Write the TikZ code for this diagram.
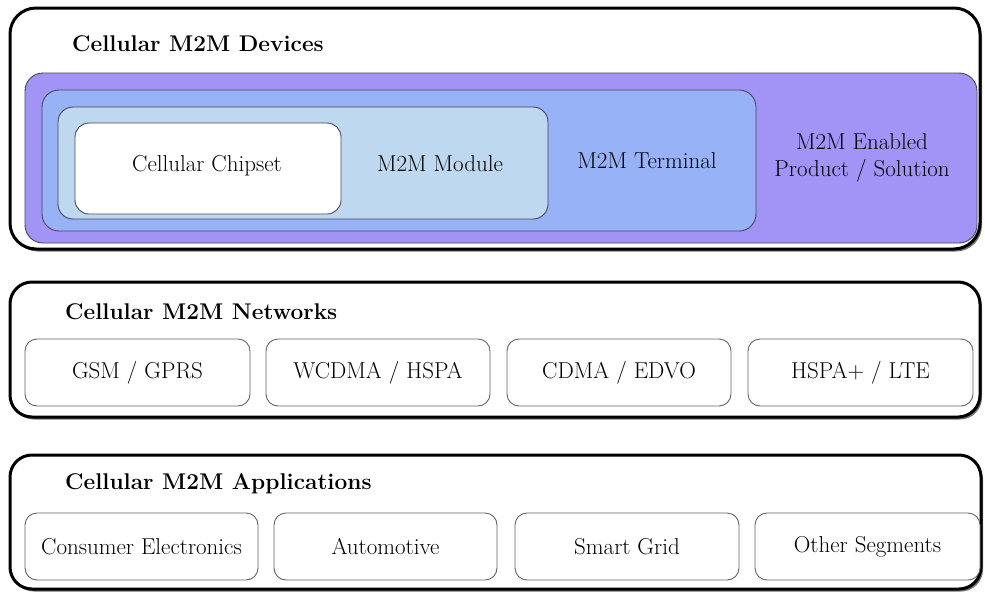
\documentclass[tikz,border=0pt]{standalone}
\usepackage{fontspec}
\usetikzlibrary{shadows}

\definecolor{enabledpurple}{RGB}{162,148,246}
\definecolor{terminalblue}{RGB}{152,178,248}
\definecolor{modulelight}{RGB}{190,216,240}
\definecolor{edgegray}{RGB}{70,70,88}

\tikzset{
  layerbox/.style={draw=black, line width=3pt, rounded corners=26pt, fill=white,
    drop shadow={shadow xshift=2pt, shadow yshift=-2.5pt, fill=black!55, opacity=1}},
  nestbox/.style={draw=edgegray, line width=0.9pt, rounded corners=18pt},
  itembox/.style={draw=edgegray!85, line width=0.9pt, rounded corners=12pt, fill=white,
    minimum height=67pt, font=\fontsize{23}{27}\selectfont, inner sep=0pt},
  layertitle/.style={font=\fontsize{22.7}{27}\selectfont\bfseries, anchor=west, inner sep=0pt},
  boxtext/.style={font=\fontsize{23}{27}\selectfont, align=center, inner sep=0pt},
}

\begin{document}
\begin{tikzpicture}[x=1pt, y=-1pt]
    \useasboundingbox (0,0) rectangle (985,592);
        % devices layer
        \draw[layerbox] (10,8) rectangle (980,249);
        \node[layertitle] (devtitle) at (72,44) {Cellular M2M Devices};
        \draw[nestbox, fill=enabledpurple] (25,73) rectangle (977,243);
        \draw[nestbox, fill=terminalblue, rounded corners=17pt] (42,90) rectangle (756,231);
        \draw[nestbox, fill=modulelight, rounded corners=15pt] (58,107) rectangle (548,219);
        \draw[nestbox, fill=white, rounded corners=14pt] (75,123) rectangle (341,214);
        \node[boxtext] (chipset) at (207,166) {Cellular Chipset};
        \node[boxtext] (module) at (440,164) {M2M Module};
        \node[boxtext] (terminal) at (647,161) {M2M Terminal};
        \node[boxtext] (enabled) at (862,158) {M2M Enabled\\Product / Solution};
        % networks layer
        \draw[layerbox, rounded corners=22pt] (10,282) rectangle (980,417);
        \node[layertitle] (nettitle) at (65,312) {Cellular M2M Networks};
        \node[itembox, minimum width=225pt] (gsm) at (137.5,372.5) {GSM / GPRS};
        \node[itembox, minimum width=224pt] (wcdma) at (378,372.5) {WCDMA / HSPA};
        \node[itembox, minimum width=224pt] (cdma) at (619,372.5) {CDMA / EDVO};
        \node[itembox, minimum width=225pt] (hspa) at (860.5,372.5) {HSPA+ / LTE};
        % applications layer
        \draw[layerbox, rounded corners=22pt] (10,455) rectangle (981,589);
        \node[layertitle] (apptitle) at (65,484) {Cellular M2M Applications};
        \node[itembox, minimum width=233pt] (consumer) at (141.5,546.5) {Consumer Electronics};
        \node[itembox, minimum width=223pt] (auto) at (385.5,546.5) {Automotive};
        \node[itembox, minimum width=224pt] (grid) at (627,546.5) {Smart Grid};
        \node[itembox, minimum width=225pt] (other) at (867.5,546.5) {Other Segments};
\end{tikzpicture}
\end{document}
